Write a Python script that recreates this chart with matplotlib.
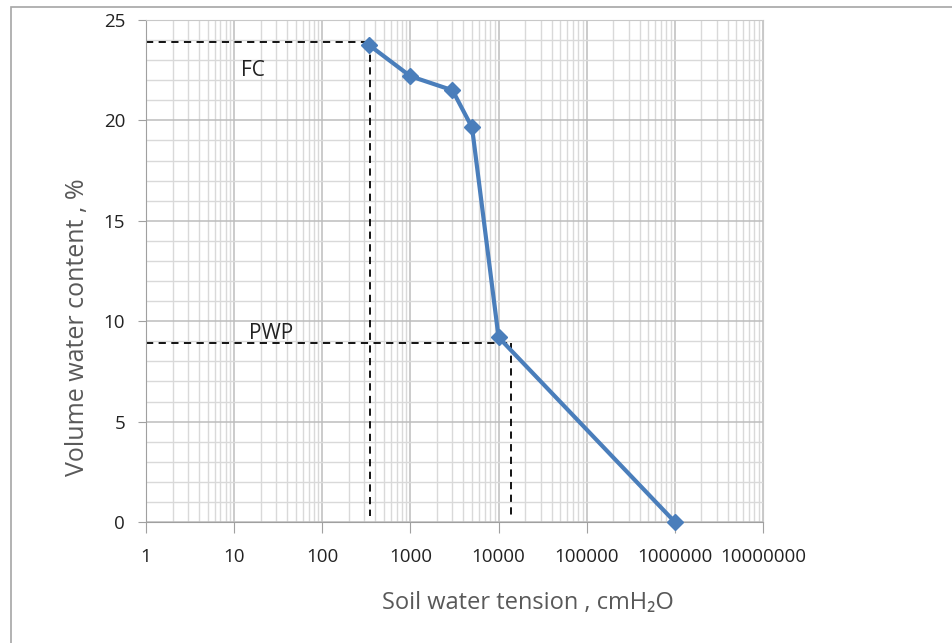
import matplotlib
matplotlib.use("Agg")
import matplotlib.pyplot as plt
import matplotlib.ticker as plticker
from matplotlib.patches import Rectangle

# soil water retention data
tension = [340, 1000, 3000, 5000, 10000, 1000000]
water = [23.75, 22.2, 21.5, 19.65, 9.2, 0]

fc_x, fc_y = 345, 23.9
pwp_x, pwp_y = 13800, 8.9

x_ticks = [1, 10, 100, 1000, 10000, 100000, 1000000, 10000000]

plt.rcParams['font.family'] = ['Open Sans', 'DejaVu Sans']

W, H = 952, 643
fig = plt.figure(figsize=(W / 100, H / 100), dpi=100)
ax = fig.add_axes([146 / W, 1 - 522 / H, (763 - 146) / W, (522 - 20) / H])

# outer chart frame (only top and left visible)
fig.patches.append(Rectangle((11 / W, -0.1), 1.2, 1 - 7.5 / H + 0.1, transform=fig.transFigure,
                             fill=False, edgecolor='#a6a6a6', linewidth=1.2))

ax.set_xscale('log')
ax.set_xlim(1, 1e7)
ax.set_ylim(0, 25)

ax.xaxis.set_major_locator(plticker.FixedLocator(x_ticks))
ax.xaxis.set_major_formatter(plticker.FixedFormatter([str(v) for v in x_ticks]))
ax.xaxis.set_minor_locator(plticker.LogLocator(base=10, subs=range(2, 10), numticks=20))
ax.xaxis.set_minor_formatter(plticker.NullFormatter())
ax.yaxis.set_major_locator(plticker.MultipleLocator(5))
ax.yaxis.set_minor_locator(plticker.MultipleLocator(1))

ax.grid(which='major', color='#bdbdbd', linewidth=1.1)
ax.grid(which='minor', color='#d9d9d9', linewidth=1.0)
ax.set_axisbelow(True)

for side in ['left', 'bottom']:
    ax.spines[side].set_color('#a0a0a0')
for side in ['top', 'right']:
    ax.spines[side].set_color('#c8c8c8')

ax.tick_params(axis='x', which='major', length=8, color='#a0a0a0', labelsize=13.5, pad=11, labelcolor='#222222')
ax.tick_params(axis='x', which='minor', length=0)
ax.tick_params(axis='y', which='major', length=6, color='#a0a0a0', labelsize=13.5, pad=9, labelcolor='#222222')
ax.tick_params(axis='y', which='minor', length=0)

# FC and PWP guide lines
ax.plot([1, fc_x], [fc_y, fc_y], color='black', linestyle='--', linewidth=1.3, dashes=(4, 3))
ax.plot([fc_x, fc_x], [fc_y, 0.3], color='black', linestyle='--', linewidth=1.3, dashes=(4, 3))
ax.plot([1, pwp_x], [pwp_y, pwp_y], color='black', linestyle='--', linewidth=1.3, dashes=(4, 3))
ax.plot([pwp_x, pwp_x], [pwp_y, 0.3], color='black', linestyle='--', linewidth=1.3, dashes=(4, 3))

ax.plot(tension, water, color='#4a7ebb', linewidth=3, marker='D', markersize=8,
        markerfacecolor='#4a7ebb', markeredgecolor='#4a7ebb', clip_on=False, zorder=5)

ax.text(16.4, 22.5, 'FC', fontsize=15, ha='center', va='center', color='#222222')
ax.text(26, 9.4, 'PWP', fontsize=15, ha='center', va='center', color='#222222')

fig.text(528 / W, 1 - 603 / H, 'Soil water tension , cmH₂O', fontsize=17, color='#595959',
         ha='center', va='center')
fig.text(78 / W, 1 - 327 / H, 'Volume water content , %', fontsize=18, color='#595959',
         ha='center', va='center', rotation=90)

fig.savefig('out.png', dpi=100)
